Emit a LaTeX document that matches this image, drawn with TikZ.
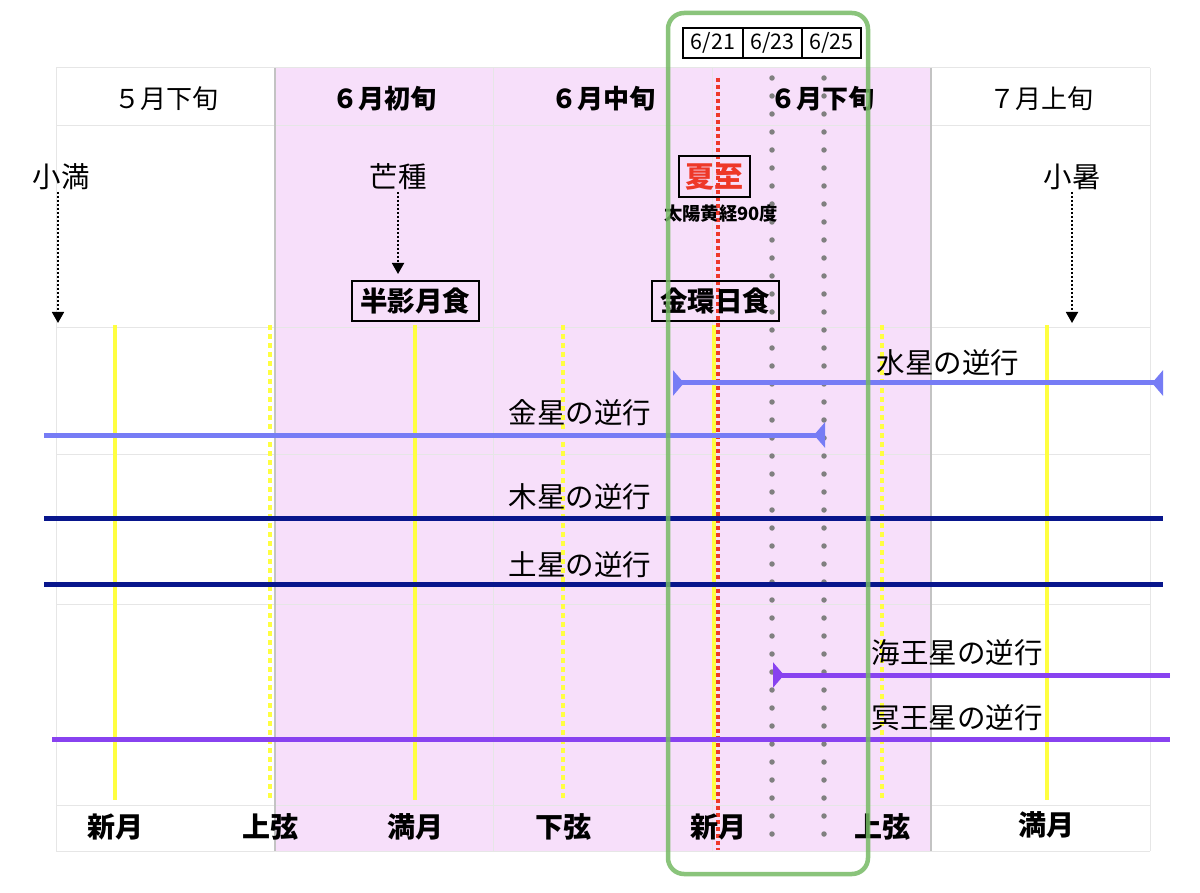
\documentclass[tikz,border=0pt]{standalone}
\usepackage{fontspec}
\setmainfont{Noto Sans CJK JP}
\usetikzlibrary{arrows.meta}
\definecolor{pinkbg}{RGB}{247,223,250}
\definecolor{gridc}{RGB}{230,230,230}
\definecolor{edgec}{RGB}{195,195,195}
\definecolor{moony}{RGB}{255,255,64}
\definecolor{solred}{RGB}{238,56,40}
\definecolor{dotgray}{RGB}{128,128,128}
\definecolor{frameg}{RGB}{118,186,100}
\definecolor{mercblue}{RGB}{118,124,245}
\definecolor{navyline}{RGB}{8,22,140}
\definecolor{violetline}{RGB}{136,66,240}
\tikzset{
  gridline/.style={draw=gridc, line width=1pt},
  edgeline/.style={draw=edgec, line width=1.2pt},
  phasesolid/.style={draw=moony, line width=4pt},
  phasedot/.style={draw=moony, line width=4pt, dash pattern=on 5pt off 4pt},
  soldot/.style={draw=solred, line width=4pt, dash pattern=on 4pt off 3pt},
  daydot/.style={draw=dotgray, line width=5.5pt, line cap=round, dash pattern=on 0pt off 18pt},
  termarrow/.style={draw=black, line width=1.8pt, dash pattern=on 2pt off 2pt, -{Triangle[width=12pt,length=11pt]}},
  retro/.style={line width=5pt},
  rtip/.tip={Triangle[reversed,width=25pt,length=11pt]},
  headn/.style={inner sep=0pt, font=\fontsize{26}{26}\selectfont},
  headb/.style={inner sep=0pt, font=\fontsize{26}{26}\selectfont\bfseries},
  termlbl/.style={inner sep=0pt, font=\fontsize{28.5}{28.5}\selectfont},
  retrolbl/.style={inner sep=0pt, font=\fontsize{28.5}{28.5}\selectfont},
  phaselbl/.style={inner sep=0pt, font=\fontsize{28}{28}\selectfont\bfseries},
  eventbox/.style={draw=black, line width=2pt, inner sep=0pt, minimum width=127pt, minimum height=40pt, font=\fontsize{27.5}{27.5}\selectfont\bfseries},
  datebox/.style={draw=black, line width=1.2pt, inner sep=0pt, minimum width=59pt, minimum height=30pt, font=\fontsize{21.5}{21.5}\selectfont},
}
\begin{document}
\begin{tikzpicture}[x=1pt,y=-1pt]
\useasboundingbox (0,0) rectangle (1200,893);
\fill[white] (0,0) rectangle (1200,893);
% pink band
\fill[pinkbg] (275,68) rectangle (931,851);
% grid
\foreach \yy in {68,126,328,454,604,805,851}
  \draw[gridline] (56,\yy) -- (1150,\yy);
\foreach \xx in {56,493,712,1150}
  \draw[gridline] (\xx,68) -- (\xx,851);
\foreach \xx in {275,931}
  \draw[edgeline] (\xx,68) -- (\xx,851);
% header labels
\node[headn] (h1) at (166,99) {５月下旬};
\node[headb] (h2) at (384,99) {６月初旬};
\node[headb] (h3) at (603,99) {６月中旬};
\node[headb] (h4) at (822,99) {６月下旬};
\node[headn] (h5) at (1041,99) {７月上旬};
% moon phase lines
\coordinate (m1t) at (115,325); \coordinate (m1b) at (115,800);
\coordinate (m2t) at (270,325); \coordinate (m2b) at (270,800);
\coordinate (m3t) at (415,325); \coordinate (m3b) at (415,800);
\coordinate (m4t) at (563,325); \coordinate (m4b) at (563,800);
\coordinate (m5t) at (714,325); \coordinate (m5b) at (714,800);
\coordinate (m6t) at (882,325); \coordinate (m6b) at (882,800);
\coordinate (m7t) at (1047,325); \coordinate (m7b) at (1047,800);
\draw[phasesolid] (m1t) -- (m1b);
\draw[phasedot] (m2t) -- (m2b);
\draw[phasesolid] (m3t) -- (m3b);
\draw[phasedot] (m4t) -- (m4b);
\draw[phasesolid] (m5t) -- (m5b);
\draw[phasedot] (m6t) -- (m6b);
\draw[phasesolid] (m7t) -- (m7b);
% date lines
\coordinate (d21t) at (718,78); \coordinate (d21b) at (718,850);
\coordinate (d23t) at (772,78); \coordinate (d23b) at (772,840);
\coordinate (d25t) at (824,78); \coordinate (d25b) at (824,840);
\draw[soldot] (d21t) -- (d21b);
\draw[daydot] (d23t) -- (d23b);
\draw[daydot] (d25t) -- (d25b);
% retrograde lines
\coordinate (merS) at (673,383); \coordinate (merE) at (1163,383);
\coordinate (venS) at (44,435); \coordinate (venE) at (825,435);
\coordinate (jupS) at (44,518); \coordinate (jupE) at (1163,518);
\coordinate (satS) at (44,584); \coordinate (satE) at (1163,584);
\coordinate (nepS) at (773,675); \coordinate (nepE) at (1170,675);
\coordinate (pluS) at (52,739); \coordinate (pluE) at (1170,739);
\draw[retro, draw=mercblue, fill=mercblue, {rtip}-{rtip}] (merS) -- (merE);
\draw[retro, draw=mercblue, fill=mercblue, -{rtip}] (venS) -- (venE);
\draw[retro, draw=navyline] (jupS) -- (jupE);
\draw[retro, draw=navyline] (satS) -- (satE);
\draw[retro, draw=violetline, fill=violetline, {rtip}-] (nepS) -- (nepE);
\draw[retro, draw=violetline] (pluS) -- (pluE);
\node[retrolbl] (merL) at (948,363) {水星の逆行};
\node[retrolbl] (venL) at (580,413) {金星の逆行};
\node[retrolbl] (jupL) at (580,497) {木星の逆行};
\node[retrolbl] (satL) at (580,565) {土星の逆行};
\node[retrolbl] (nepL) at (957,653) {海王星の逆行};
\node[retrolbl] (pluL) at (957,718) {冥王星の逆行};
% solar terms
\node[termlbl] (shoman) at (61,177) {小満};
\node[termlbl] (boshu) at (398,177) {芒種};
\node[termlbl] (shosho) at (1072,177) {小暑};
\coordinate (shomanA) at (58,192); \coordinate (shomanB) at (58,323);
\coordinate (boshuA) at (398,192); \coordinate (boshuB) at (398,274);
\coordinate (shoshoA) at (1072,192); \coordinate (shoshoB) at (1072,323);
\draw[termarrow] (shomanA) -- (shomanB);
\draw[termarrow] (boshuA) -- (boshuB);
\draw[termarrow] (shoshoA) -- (shoshoB);
% geshi
\node[draw=black, line width=2pt, inner sep=0pt, minimum width=71pt, minimum height=41pt, text=solred, font=\fontsize{29}{29}\selectfont\bfseries] (geshi) at (714,177) {夏至};
\node[inner sep=0pt, font=\fontsize{18.3}{18.3}\selectfont\bfseries] (geshiSub) at (721,214) {太陽黄経90度};
% eclipses
\node[eventbox] (lunar) at (415,301) {半影月食};
\node[eventbox] (solar) at (715,301) {金環日食};
% bottom labels
\node[phaselbl] (p1) at (115,827) {新月};
\node[phaselbl] (p2) at (270,827) {上弦};
\node[phaselbl] (p3) at (415,827) {満月};
\node[phaselbl] (p4) at (563,827) {下弦};
\node[phaselbl] (p5) at (718,827) {新月};
\node[phaselbl] (p6) at (882,827) {上弦};
\node[phaselbl] (p7) at (1046,825) {満月};
% date boxes
\node[datebox, minimum width=60pt] (b21) at (713,43) {6/21};
\node[datebox] (b23) at (772.5,43) {6/23};
\node[datebox] (b25) at (831.5,43) {6/25};
% green frame
\draw[draw=frameg, line width=4.5pt, rounded corners=16pt, opacity=0.85] (668,13) rectangle (868,874);
\end{tikzpicture}
\end{document}
